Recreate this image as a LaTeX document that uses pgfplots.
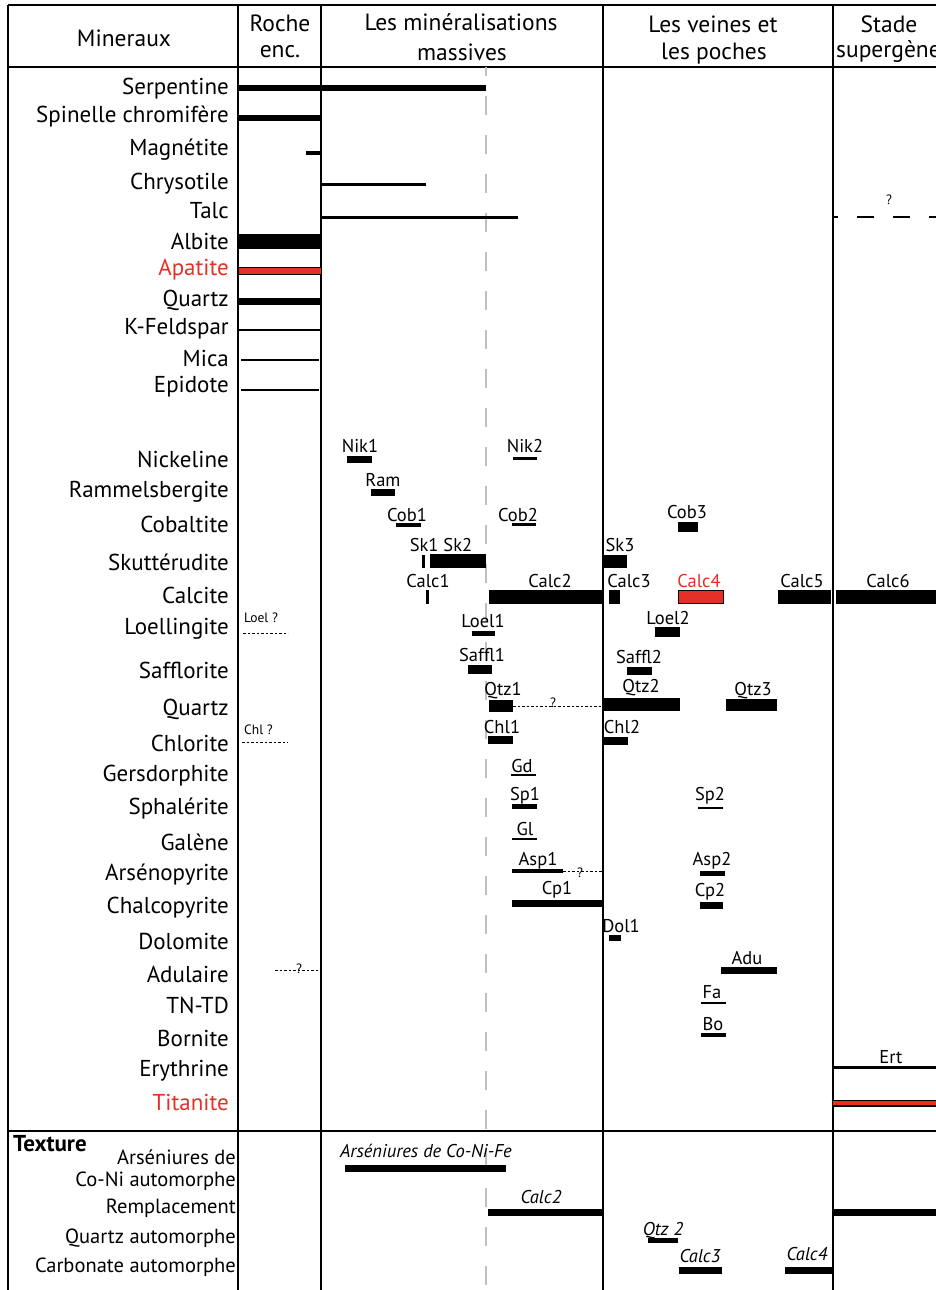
\documentclass[border=0pt]{standalone}
\usepackage{fontspec}
\setmainfont{PT Sans}
\usepackage{pgfplots}
\pgfplotsset{compat=1.18}
\definecolor{myred}{RGB}{228,48,38}
\newcommand\rowf{\fontsize{23}{25}\selectfont}
\newcommand\labf{\fontsize{18.5}{20}\selectfont}
\newcommand\smf{\fontsize{13.5}{15}\selectfont}
\newcommand\hdf{\fontsize{23.5}{25}\selectfont}
\newcommand\txf{\fontsize{20.5}{22}\selectfont}
% horizontal segment: [colour]{x1}{x2}{y}{width}
\newcommand\seg[5][black]{\addplot[#1, line width=#5pt, forget plot] coordinates {(#2,#4) (#3,#4)};}
% vertical segment: [colour]{x}{y1}{y2}{width}
\newcommand\vseg[5][black]{\addplot[#1, line width=#5pt, forget plot] coordinates {(#2,#3) (#2,#4)};}
\newcommand\dotseg[3]{\addplot[black, line width=0.9pt, dash pattern=on 2.5pt off 2pt, forget plot] coordinates {(#1,#3) (#2,#3)};}
\newcommand\rl[3][black]{\node[anchor=east, inner sep=0pt, font=\rowf, text=#1] at (229,#2) {#3};}
\newcommand\tl[2]{\node[anchor=east, inner sep=0pt, font=\txf] at (236,#1) {#2};}
\newcommand\lab[4][black]{\node[inner sep=0pt, font=\labf, text=#1] at (#2,#3) {#4};}
\newcommand\ilab[3]{\node[inner sep=0pt, font=\labf\itshape] at (#1,#2) {#3};}
\newcommand\q[2]{\node[inner sep=0pt, font=\smf] at (#1,#2) {?};}
\begin{document}
\begin{tikzpicture}
\begin{axis}[name=ax, width=936pt, height=1290pt, scale only axis,
  xmin=0, xmax=936, ymin=0, ymax=1290, y dir=reverse, hide axis, clip=false]
% ---- frame ----
\seg{8}{936}{5}{1.6}
\seg{8}{936}{67}{1.6}
\seg{8}{936}{1131}{1.6}
\vseg{8}{5}{1290}{1.6}
\vseg{238}{5}{1290}{1.3}
\vseg{321}{5}{1290}{1.3}
\vseg{603}{5}{1290}{1.3}
\vseg{833}{5}{1290}{1.3}
\addplot[black!25, line width=1.2pt, dash pattern=on 19pt off 20pt, dash phase=10pt, forget plot] coordinates {(486,67) (486,1290)};
% ---- headers ----
\node[font=\hdf] at (124,38) {Mineraux};
\node[font=\hdf] at (280,23) {Roche};
\node[font=\hdf] at (280,52) {enc.};
\node[font=\hdf] at (461,22) {Les minéralisations};
\node[font=\hdf] at (462,52) {massives};
\node[font=\hdf] at (713,24) {Les veines et};
\node[font=\hdf] at (714,54) {les poches};
\node[font=\hdf] at (889,24) {Stade};
\node[font=\hdf, anchor=west, inner sep=0pt] at (836,52) {supergène};
% ---- row labels ----
\rl{89}{Serpentine}
\rl{117}{Spinelle chromifère}
\rl{150}{Magnétite}
\rl{184}{Chrysotile}
\rl{211}{Talc}
\rl{241}{Albite}
\rl[myred]{270}{Apatite}
\rl{300}{Quartz}
\rl{329}{K-Feldspar}
\rl{358}{Mica}
\rl{387}{Epidote}
\rl{459}{Nickeline}
\rl{492}{Rammelsbergite}
\rl{524}{Cobaltite}
\rl{562}{Skuttérudite}
\rl{595}{Calcite}
\rl{629}{Loellingite}
\rl{670}{Safflorite}
\rl{709}{Quartz}
\rl{743}{Chlorite}
\rl{776}{Gersdorphite}
\rl{809}{Sphalérite}
\rl{842}{Galène}
\rl{875}{Arsénopyrite}
\rl{908}{Chalcopyrite}
\rl{941}{Dolomite}
\rl{974}{Adulaire}
\rl{1005}{TN-TD}
\rl{1038}{Bornite}
\rl{1071}{Erythrine}
\rl[myred]{1102}{Titanite}
% ---- texture labels ----
\node[anchor=west, inner sep=0pt, font=\fontsize{23}{25}\selectfont\bfseries] at (13,1144) {Texture};
\tl{1157}{Arséniures de}
\tl{1181}{Co-Ni automorphe}
\tl{1208}{Remplacement}
\tl{1238}{Quartz automorphe}
\tl{1267}{Carbonate automorphe}
% ---- first block bars ----
\seg{239}{486}{88}{6}
\seg{239}{321}{118}{6}
\seg{306}{321}{153}{4}
\seg{321}{426}{184}{3}
\seg{321}{518}{217}{3}
\seg{239}{321}{241}{15}
\seg{239}{321}{271}{8.5}
\seg[myred]{239}{321}{271}{6}
\seg{239}{321}{301}{7}
\seg{239}{321}{330}{2}
\seg{241}{319}{360}{2.5}
\seg{241}{319}{390}{2.5}
% talc supergene dashed
\addplot[black, line width=1.3pt, dash pattern=on 17pt off 19pt, dash phase=12pt, forget plot] coordinates {(833,217) (936,217)};
\q{889}{200}
% ---- second block bars ----
\seg{347}{372}{459}{7}
\seg{513}{537}{458}{3}
\seg{371}{395}{492}{7}
\seg{396}{421}{525}{4}
\seg{512}{536}{524}{3}
\seg{678}{698}{527}{10}
\vseg{423}{555}{568}{3}
\seg{430}{486}{561}{14}
\seg{603}{627}{561}{13}
\vseg{427}{590}{604}{3}
\seg{489}{603}{597}{14}
\seg{609}{620}{597}{14}
\seg{678}{724}{597}{14}
\seg[myred]{679}{723}{597}{12}
\seg{778}{831}{597}{14}
\seg{836}{936}{597}{14}
\dotseg{243}{288}{633}
\seg{472}{495}{633}{5}
\seg{655}{680}{632}{10}
\seg{468}{492}{669}{9}
\seg{627}{652}{671}{8}
\seg{489}{513}{706}{12}
\dotseg{513}{603}{706}
\seg{603}{680}{704}{13}
\seg{726}{777}{705}{12}
\dotseg{242}{288}{742}
\seg{488}{513}{740}{8}
\seg{603}{628}{741}{8}
\seg{511}{536}{775}{2}
\seg{512}{537}{806}{5}
\seg{698}{723}{808}{2}
\seg{512}{537}{839}{2}
\seg{512}{563}{871}{4}
\dotseg{563}{603}{871}
\seg{700}{725}{873}{5}
\seg{512}{603}{903}{7}
\seg{700}{723}{905}{7}
\seg{609}{621}{938}{6}
\dotseg{275}{321}{970}
\seg{721}{777}{970}{7}
\seg{701}{726}{1003}{2}
\seg{701}{726}{1035}{4}
\seg{833}{936}{1067}{3}
\seg{833}{936}{1103}{7}
\seg[myred]{833}{936}{1103}{4.5}
% ---- texture bars ----
\seg{345}{506}{1168}{7}
\seg{488}{602}{1212}{7}
\seg{833}{936}{1212}{7}
\seg{648}{678}{1240}{5}
\seg{679}{722}{1270}{7}
\seg{785}{833}{1270}{7}
% ---- bar labels ----
\lab{360}{446}{Nik1}
\lab{525}{446}{Nik2}
\lab{383}{480}{Ram}
\lab{407}{515}{Cob1}
\lab{518}{515}{Cob2}
\lab{687}{512}{Cob3}
\lab{441}{545}{Sk1 Sk2}
\lab{620}{545}{Sk3}
\lab{428}{581}{Calc1}
\lab{550}{581}{Calc2}
\lab{629}{581}{Calc3}
\lab[myred]{699}{581}{Calc4}
\lab{802}{581}{Calc5}
\lab{888}{581}{Calc6}
\node[anchor=west, inner sep=0pt, font=\smf] at (244,618) {Loel ?};
\lab{483}{621}{Loel1}
\lab{668}{618}{Loel2}
\lab{482}{655}{Saffl1}
\lab{639}{657}{Saffl2}
\lab{503}{691}{Qtz1}
\q{553}{703}
\lab{641}{688}{Qtz2}
\lab{753}{691}{Qtz3}
\node[anchor=west, inner sep=0pt, font=\smf] at (244,730) {Chl ?};
\lab{502}{727}{Chl1}
\lab{622}{727}{Chl2}
\lab{522}{766}{Gd}
\lab{525}{796}{Sp1}
\lab{710}{796}{Sp2}
\lab{525}{829}{Gl}
\lab{538}{861}{Asp1}
\q{580}{873}
\lab{712}{861}{Asp2}
\lab{557}{890}{Cp1}
\lab{710}{892}{Cp2}
\lab{621}{926}{Dol1}
\q{299}{969}
\lab{747}{958}{Adu}
\lab{712}{992}{Fa}
\lab{713}{1024}{Bo}
\lab{891}{1057}{Ert}
% ---- texture labels on bars ----
\ilab{426}{1151}{Arséniures de Co-Ni-Fe}
\ilab{541}{1197}{Calc2}
\ilab{663}{1231}{Qtz 2}
\ilab{700}{1256}{Calc3}
\ilab{807}{1254}{Calc4}
\end{axis}
\pgfresetboundingbox
\path (ax.south west) rectangle (ax.north east);
\end{tikzpicture}
\end{document}
